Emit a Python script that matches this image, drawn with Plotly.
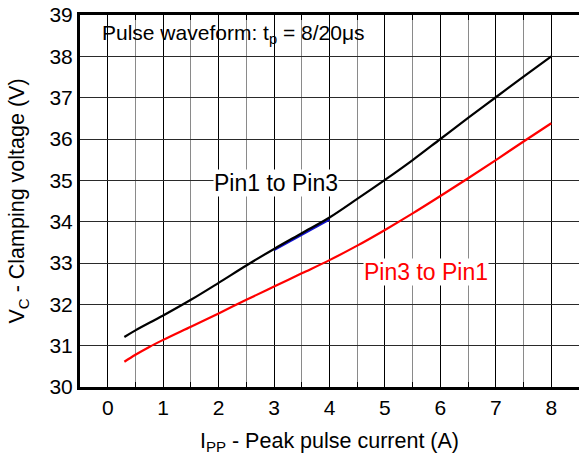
import plotly.graph_objects as go

# Data
pin13_x = [0.3, 0.5, 1.0, 1.5, 2.0, 2.5, 3.0, 3.5, 4.0, 4.5, 5.0, 5.5, 6.0, 6.5, 7.0, 7.5, 8.0]
pin13_y = [31.21, 31.37, 31.73, 32.11, 32.52, 32.94, 33.34, 33.72, 34.1, 34.55, 35.01, 35.49, 36.0, 36.51, 37.01, 37.51, 38.0]

blue_x = [3.0, 3.5, 4.0]
blue_y = [33.31, 33.68, 34.05]

pin31_x = [0.3, 0.5, 0.75, 1.0, 1.5, 2.0, 2.5, 3.0, 3.5, 4.0, 4.5, 5.0, 5.5, 6.0, 6.5, 7.0, 7.5, 8.0]
pin31_y = [30.61, 30.78, 30.97, 31.14, 31.46, 31.78, 32.11, 32.43, 32.75, 33.07, 33.42, 33.8, 34.2, 34.62, 35.05, 35.49, 35.94, 36.38]

x_ticks = [0, 1, 2, 3, 4, 5, 6, 7, 8]
y_ticks = [30, 31, 32, 33, 34, 35, 36, 37, 38, 39]

FONT = "Liberation Sans, Arial, sans-serif"

fig = go.Figure()
fig.add_trace(go.Scatter(x=blue_x, y=blue_y, mode="lines",
                         line=dict(color="#1010d0", width=2), hoverinfo="skip"))
fig.add_trace(go.Scatter(x=pin13_x, y=pin13_y, mode="lines",
                         line=dict(color="black", width=2.2, shape="spline", smoothing=1.0)))
fig.add_trace(go.Scatter(x=pin31_x, y=pin31_y, mode="lines",
                         line=dict(color="#ff0000", width=2.2, shape="spline", smoothing=1.0)))

# white box behind the pulse-waveform caption (hides grid, keeps ticks)
fig.add_shape(type="rect", xref="paper", yref="y", x0=0.0, x1=0.608, y0=38.15, y1=39,
              fillcolor="white", line=dict(width=0), layer="between")

fig.add_annotation(x=0.307, xref="paper", xanchor="center", y=38.55, yref="y",
                   text="Pulse waveform: t<sub>p</sub> = 8/20\u03bcs", showarrow=False,
                   font=dict(size=21, color="black", family=FONT))
fig.add_annotation(x=3.03, y=34.94, text="Pin1 to Pin3", showarrow=False,
                   bgcolor="white", borderpad=0,
                   font=dict(size=23, color="black", family=FONT))
fig.add_annotation(x=5.745, y=32.79, text="Pin3 to Pin1", showarrow=False,
                   bgcolor="white", borderpad=0,
                   font=dict(size=23, color="#ff0000", family=FONT))

fig.update_layout(
    width=579, height=459,
    margin=dict(l=80, r=0, t=15, b=72),
    plot_bgcolor="white", paper_bgcolor="white",
    showlegend=False,
    font=dict(family=FONT, color="black"),
)
fig.update_xaxes(
    range=[-0.5, 8.5], tickvals=x_ticks, ticktext=[str(v) for v in x_ticks],
    showgrid=True, gridcolor="black", gridwidth=1,
    minor=dict(dtick=0.5, tick0=0, showgrid=True, gridcolor="#8a8a8a", gridwidth=1.3,
               ticks="inside", ticklen=5, tickcolor="black", tickwidth=1),
    ticks="inside", ticklen=5, tickcolor="black",
    showline=True, linewidth=3, linecolor="black", mirror="allticks",
    zeroline=False, automargin=False,
    tickfont=dict(size=21, color="black"),
    title=dict(text="I<sub>PP</sub> - Peak pulse current (A)", font=dict(size=21.5), standoff=15),
)
fig.update_yaxes(
    range=[30, 39], tickvals=y_ticks, ticktext=[str(v) for v in y_ticks],
    showgrid=True, gridcolor="#2a2a2a", gridwidth=1,
    ticks="", showline=True, linewidth=3, linecolor="black", mirror=False,
    zeroline=False, automargin=False,
    tickfont=dict(size=21, color="black"),
    title=dict(text="V<sub>C</sub> - Clamping voltage (V)", font=dict(size=21.5), standoff=19),
)

fig.write_html("out.html")
